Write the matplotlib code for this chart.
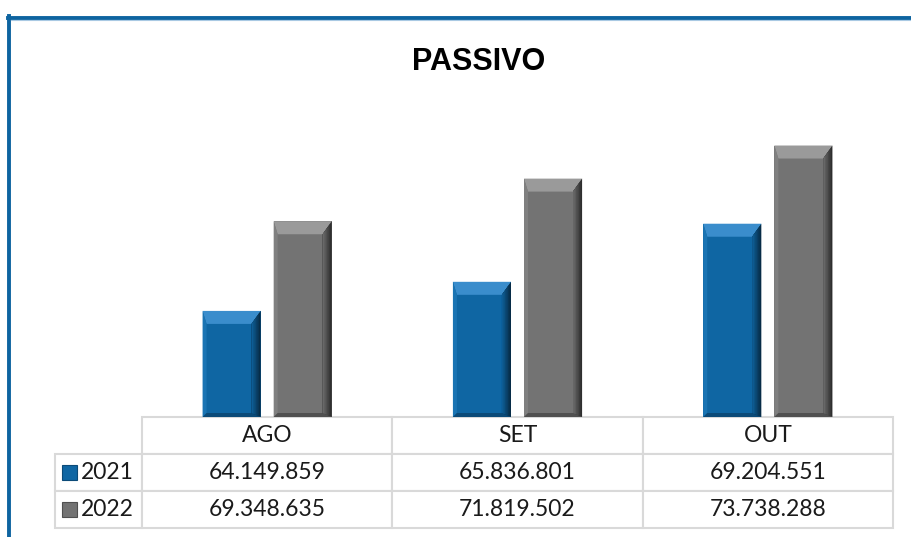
import numpy as np
import matplotlib.pyplot as plt
from matplotlib.patches import Polygon, Rectangle
from matplotlib.lines import Line2D
from matplotlib.table import Table
from matplotlib.colors import to_rgb

# dados
meses = ['AGO', 'SET', 'OUT']
anos = ['2021', '2022']
v2021 = [64149859, 65836801, 69204551]
v2022 = [69348635, 71819502, 73738288]

def fmt(v):
    return f'{v:,}'.replace(',', '.')

W, H = 912, 537
fig = plt.figure(figsize=(W / 100, H / 100), dpi=100)

# eixo principal (pixels medidos no original)
ax_l, ax_r, ax_top, ax_bot = 142, 893, 72, 417
ax = fig.add_axes([ax_l / W, (H - ax_bot) / H, (ax_r - ax_l) / W, (ax_bot - ax_top) / H])
ymin, ymax = 58e6, 78e6
ax.set_xlim(-0.5, 2.5)
ax.set_ylim(ymin, ymax)
ax.axis('off')

# conversão pixel -> dados para o chanfro
px_x = 3 / (ax_r - ax_l)
px_y = (ymax - ymin) / (ax_bot - ax_top)

cores = {
    '2021': dict(face='#0f66a3', top='#3a8dcc', right='#072c47', left='#1a74b3', bottom='#0b4a78'),
    '2022': dict(face='#737373', top='#9a9a9a', right='#2e2e2e', left='#808080', bottom='#505050'),
}

def mistura(c1, c2, t):
    a, b = np.array(to_rgb(c1)), np.array(to_rgb(c2))
    return tuple(a + (b - a) * t)

def bar_chanfro(x, h, larg, c):
    x0, x1 = x - larg / 2, x + larg / 2
    y0, y1 = ymin, h
    ax.add_patch(Rectangle((x0, y0), larg, y1 - y0, facecolor=c['face'], edgecolor='none'))
    dx = 9 * px_x
    dxl = 4 * px_x
    dyt = 13 * px_y
    dyb = 4 * px_y
    ax.add_patch(Polygon([(x0, y1), (x1, y1), (x1 - dx, y1 - dyt), (x0 + dxl, y1 - dyt)],
                         facecolor=c['top'], edgecolor='none'))
    ax.add_patch(Polygon([(x0, y1), (x0, y0), (x0 + dxl, y0 + dyb), (x0 + dxl, y1 - dyt)],
                         facecolor=c['left'], edgecolor='none'))
    ax.add_patch(Polygon([(x0, y0), (x1, y0), (x1 - dx, y0 + dyb), (x0 + dxl, y0 + dyb)],
                         facecolor=c['bottom'], edgecolor='none'))
    # lado direito em degradê
    n = 6
    for k in range(n):
        f = 1 - k / n
        ax.add_patch(Polygon([(x1 - dx * (1 - f), y1 - dyt * (1 - f)),
                              (x1 - dx * (1 - f), y0 + dyb * (1 - f)),
                              (x1 - dx, y0 + dyb), (x1 - dx, y1 - dyt)],
                             facecolor=mistura(c['face'], c['right'], f), edgecolor='none'))

larg = 0.232
desloc = 0.142
for i in range(len(meses)):
    bar_chanfro(i - desloc, v2021[i], larg, cores['2021'])
    bar_chanfro(i + desloc, v2022[i], larg, cores['2022'])

# tabela de dados
tab_l, tab_top, tab_bot = 55, 417, 528
axh = ax_bot - ax_top
axw = ax_r - ax_l
tbl = Table(ax, bbox=[(tab_l - ax_l) / axw, -(tab_bot - ax_bot) / axh,
                      (ax_r - tab_l) / axw, (tab_bot - tab_top) / axh])
wl, wc, hc = 87, 250, 1
linhas = [[''] + meses,
          [anos[0]] + [fmt(v) for v in v2021],
          [anos[1]] + [fmt(v) for v in v2022]]
for r, linha in enumerate(linhas):
    for c, txt in enumerate(linha):
        w = wl if c == 0 else wc
        loc = 'right' if c == 0 else 'center'
        cell = tbl.add_cell(r, c, w, hc, text=txt, loc=loc, edgecolor='#d9d9d9')
        cell.set_linewidth(1.5)
        cell.get_text().set_fontsize(16.5)
        cell.get_text().set_fontfamily('Lato')
        cell.get_text().set_color('#1a1a1a')
        if c == 0:
            cell.PAD = 0.1
        if r == 0 and c == 0:
            cell.visible_edges = ''
tbl.auto_set_font_size(False)
ax.add_table(tbl)

# marcadores da legenda nas linhas da tabela
row_h = (tab_bot - tab_top) / 3
for k, ano in enumerate(anos):
    cy = tab_top + row_h * (k + 1.5)
    s = 15
    ax.add_patch(Rectangle(((62 - ax_l) / axw, -(cy + s / 2 - ax_bot) / axh), s / axw, s / axh,
                           transform=ax.transAxes, clip_on=False,
                           facecolor=cores[ano]['face'], edgecolor=cores[ano]['bottom'], linewidth=0.8))

# título
fig.text(479 / W, 1 - 62 / H, 'PASSIVO', ha='center', va='center',
         fontsize=22, fontweight='bold', fontfamily='Liberation Sans', color='black')

# moldura azul
fig.add_artist(Line2D([8 / W, 1], [1 - 17.5 / H, 1 - 17.5 / H], color='#0e64a0', linewidth=2.8,
                      transform=fig.transFigure))
fig.add_artist(Line2D([9.5 / W, 9.5 / W], [1 - 16 / H, 0], color='#0e64a0', linewidth=2.8,
                      transform=fig.transFigure))
fig.add_artist(Line2D([11.5 / W, 1], [1 - 20 / H, 1 - 20 / H], color='#a9c9e3', linewidth=0.8,
                      transform=fig.transFigure))

fig.savefig('out.png', dpi=100)
